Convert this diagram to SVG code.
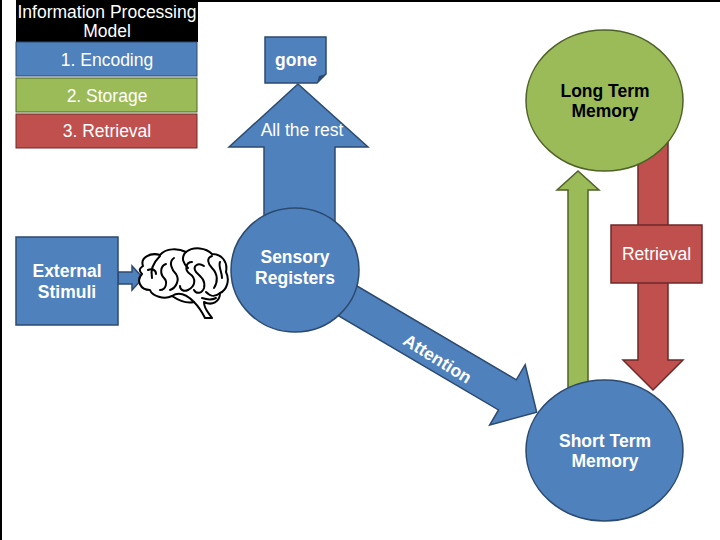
<svg xmlns="http://www.w3.org/2000/svg" width="720" height="540" viewBox="0 0 720 540">
<style>
text{font-family:"Liberation Sans",Arial,sans-serif;}
.w{fill:#fff;font-size:17.5px;text-anchor:middle;}
.wb{fill:#fff;font-size:17.5px;font-weight:bold;text-anchor:middle;}
.kb{fill:#000;font-size:17.5px;font-weight:bold;text-anchor:middle;}
.blue{fill:#4f81bd;stroke:#2c4a70;stroke-width:1.5;}
.green{fill:#9bbb59;stroke:#4f6228;stroke-width:1.5;}
.red{fill:#c0504d;stroke:#6e2a28;stroke-width:1.5;}
.brain{fill:none;stroke:#000;stroke-width:2;stroke-linecap:round;stroke-linejoin:round;}
</style>
<rect x="0" y="0" width="720" height="540" fill="#fff"/>
<line x1="198" y1="1" x2="720" y2="1" stroke="#000" stroke-width="2"/>
<line x1="1" y1="0" x2="1" y2="540" stroke="#000" stroke-width="2"/>

<g id="legend">
<rect x="16" y="0" width="182" height="42" fill="#000"/>
<text x="107" y="18" class="w" font-size="18">Information Processing</text>
<text x="107" y="37" class="w">Model</text>
<rect x="16" y="42" width="181" height="34" fill="#4f81bd" stroke="#2c4a70" stroke-width="1"/>
<text x="107" y="66" class="w">1. Encoding</text>
<rect x="16" y="78" width="181" height="34" fill="#9bbb59" stroke="#4f6228" stroke-width="1"/>
<text x="107" y="102" class="w">2. Storage</text>
<rect x="16" y="114" width="181" height="34" fill="#c0504d" stroke="#6e2a28" stroke-width="1"/>
<text x="107" y="137" class="w">3. Retrieval</text>
</g>

<g id="connectors">
<polygon class="blue" points="264,225 264,147 229,147 298,84 368,147 335,147 335,225"/>
<polygon class="blue" points="118,272 132,272 132,266 143,278 132,290 132,284 118,284"/>
<polygon class="blue" transform="translate(348,301) rotate(30.5)" points="-25,-17.5 185,-17.5 185,-35 219,0 185,35 185,17.5 -25,17.5"/>
<polygon class="green" points="568,400 568,190 557,190 578,171 599,190 588,190 588,400"/>
<polygon class="red" points="638,130 668,130 668,360 683,360 653,390 623,360 638,360"/>
</g>

<g id="gone">
<path class="blue" d="M265,37 H326 V74 L317,83 H265 Z"/>
<path d="M317,83 L319,76 L326,74 Z" fill="#2c4a70"/>
<text x="296" y="66" class="wb">gone</text>
</g>
<text x="302" y="136" class="w">All the rest</text>

<g id="external-stimuli">
<rect class="blue" x="16" y="237" width="102" height="88"/>
<text x="67" y="277" class="wb">External</text>
<text x="67" y="298" class="wb">Stimuli</text>
</g>

<g id="brain">
<path d="M143,266 C140,258 150,252 160,255 C166,248 178,248 186,252 C194,246 206,248 212,254 C222,254 228,262 226,272 C230,280 227,290 220,293 C220,302 212,306 204,302 C204,310 210,314 212,318 L205,318 C202,312 198,306 194,302 C186,304 178,300 172,296 C164,300 152,296 150,290 C140,290 136,280 142,274 C138,270 140,268 143,266 Z" fill="#fff" stroke="#000" stroke-width="2" stroke-linejoin="round"/>
<path class="brain" d="M160,256 C154,262 150,270 152,278"/>
<path class="brain" d="M148,270 C152,268 156,270 156,274"/>
<path class="brain" d="M166,264 C160,266 160,274 164,278 C168,282 166,290 160,290"/>
<path class="brain" d="M174,258 C168,262 172,270 176,274 C180,280 176,288 170,290"/>
<path class="brain" d="M186,252 C180,258 184,264 188,268"/>
<path class="brain" d="M192,262 C186,262 184,270 190,274 C196,278 196,286 188,290 C184,292 180,290 180,286"/>
<path class="brain" d="M204,266 C198,262 192,266 196,272 C200,276 206,280 204,288 C202,294 196,294 194,290"/>
<path class="brain" d="M212,256 C206,258 208,264 212,268 C218,274 218,282 214,288"/>
<path class="brain" d="M220,262 C218,266 222,272 222,278"/>
<path class="brain" d="M172,296 C178,292 186,294 194,302"/>
<path class="brain" d="M206,292 C210,296 214,298 220,293"/>
<path class="brain" d="M202,298 C208,300 212,300 216,298"/>
</g>

<g id="sensory-registers">
<ellipse class="blue" cx="295" cy="270" rx="64" ry="62"/>
<text x="295" y="263" class="wb">Sensory</text>
<text x="295" y="284" class="wb">Registers</text>
</g>

<text x="438" y="365" class="wb" font-size="20.5" transform="rotate(32,438,358)">Attention</text>

<g id="long-term-memory">
<ellipse class="green" cx="604.5" cy="100.5" rx="78.5" ry="70.5"/>
<text x="605" y="97" class="kb">Long Term</text>
<text x="605" y="117" class="kb">Memory</text>
</g>

<g id="retrieval">
<rect class="red" x="611" y="225" width="91" height="58"/>
<text x="656.5" y="260" class="w">Retrieval</text>
</g>

<g id="short-term-memory">
<ellipse class="blue" cx="604.5" cy="450.5" rx="78.5" ry="70.5"/>
<text x="605" y="447" class="wb">Short Term</text>
<text x="605" y="467" class="wb">Memory</text>
</g>
</svg>
